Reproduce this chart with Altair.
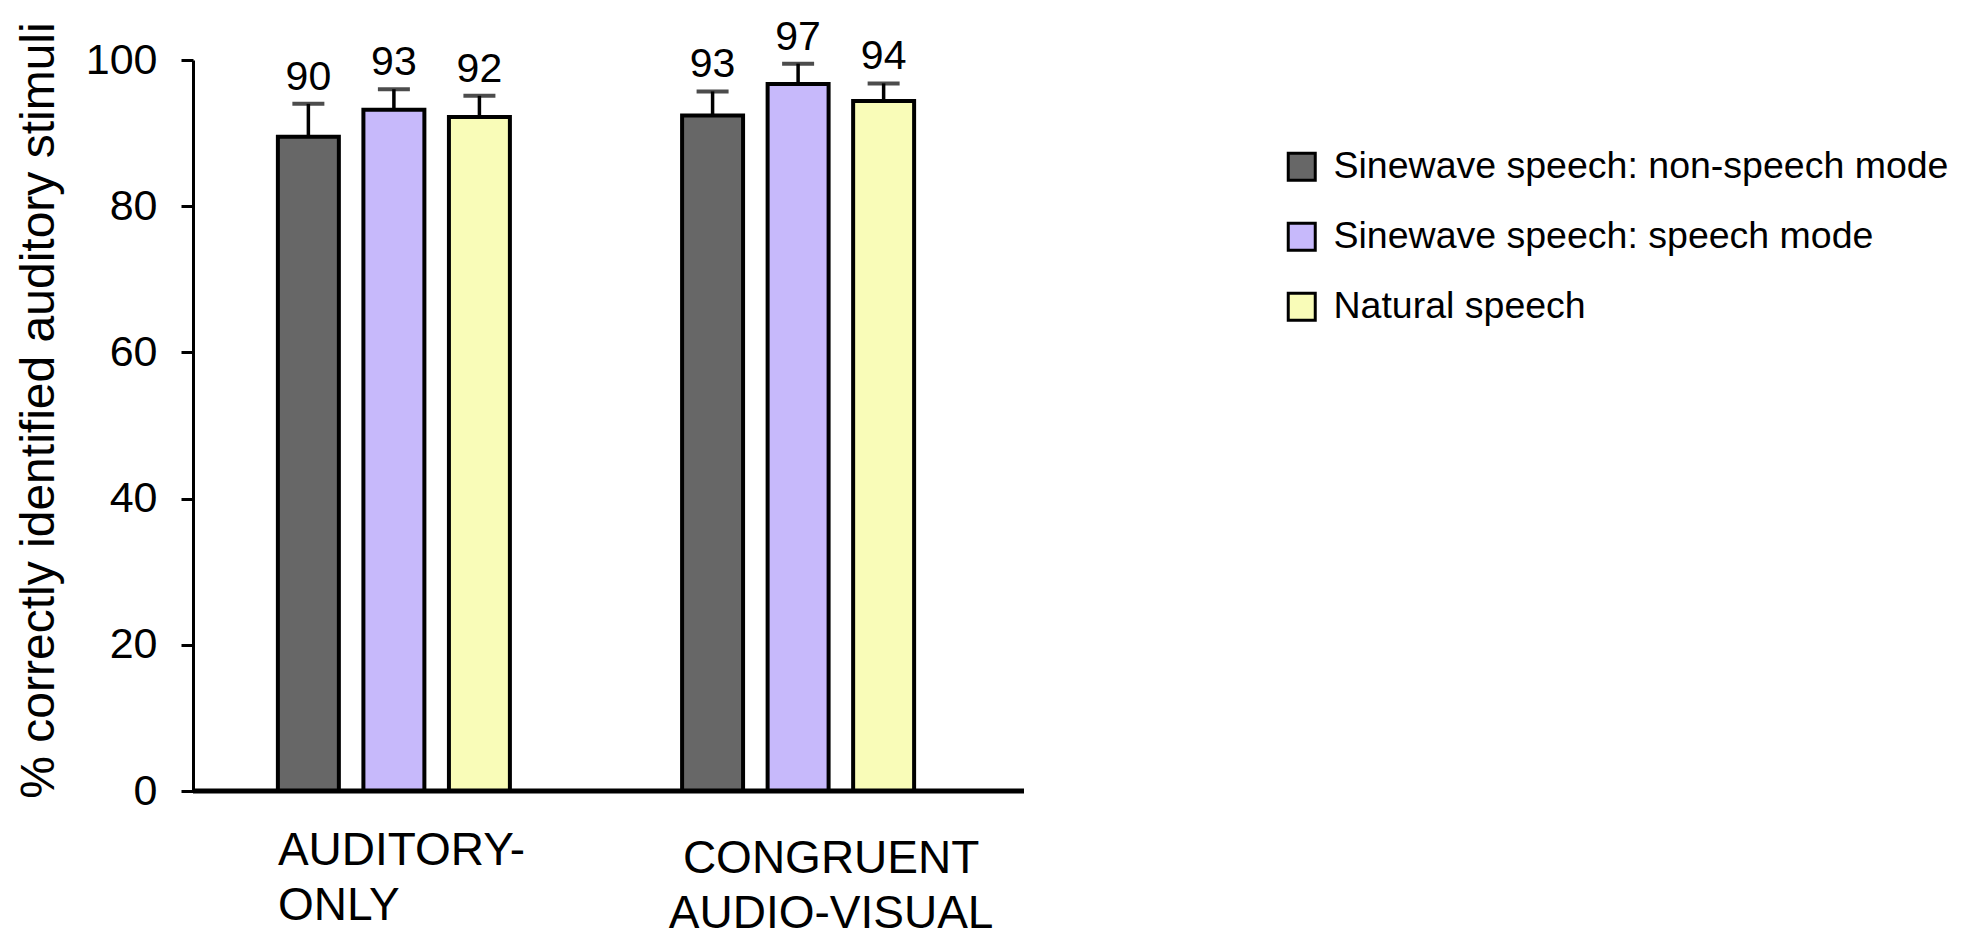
import altair as alt
import pandas as pd

# ---- data ----
groups = ["AUDITORY-\nONLY", "CONGRUENT\nAUDIO-VISUAL"]
conditions = [
    "Sinewave speech: non-speech mode",
    "Sinewave speech: speech mode",
    "Natural speech",
]
means_auditory = [89.5, 93.2, 92.2]
means_congruent = [92.4, 96.7, 94.4]
errs_auditory = [4.5, 2.8, 2.9]
errs_congruent = [3.3, 2.8, 2.4]
labels_auditory = ["90", "93", "92"]
labels_congruent = ["93", "97", "94"]
colors = ["#676767", "#c7b9fb", "#f9fcb8"]

rows = []
for g, ms, es, ls in [
    (groups[0], means_auditory, errs_auditory, labels_auditory),
    (groups[1], means_congruent, errs_congruent, labels_congruent),
]:
    for c, m, e, l in zip(conditions, ms, es, ls):
        rows.append({"group": g, "condition": c, "mean": m, "top": m + e, "label": l})
df = pd.DataFrame(rows)

FONT = "Liberation Sans"

first = "datum.index == 0"
x_enc = alt.X(
    "group:N",
    sort=groups,
    title=None,
    scale=alt.Scale(domain=groups, range=[0, 806], paddingInner=0.426, paddingOuter=0.21),
    axis=alt.Axis(
        domain=False,
        ticks=False,
        labelAngle=0,
        labelExpr="split(datum.value, '\\n')",
        labelFont=FONT,
        labelFontSize=46,
        labelColor="black",
        labelLineHeight=55,
        labelBaseline="top",
        labelLimit=0,
        labelOverlap=False,
        labelAlign={"condition": {"test": first, "value": "left"}, "value": "center"},
        labelOffset={"condition": {"test": first, "value": -116}, "value": 33},
        labelPadding={"condition": {"test": first, "value": 37}, "value": 45},
    ),
)
xo_enc = alt.XOffset(
    "condition:N",
    sort=conditions,
    scale=alt.Scale(domain=conditions, paddingInner=0.287, paddingOuter=0),
)
y_scale = alt.Scale(domain=[0, 100], nice=False)
y_axis = alt.Axis(
    values=[0, 20, 40, 60, 80, 100],
    grid=False,
    domainColor="black",
    domainWidth=3,
    tickColor="black",
    tickWidth=3,
    tickSize=12,
    labelFont=FONT,
    labelFontSize=43,
    labelColor="black",
    labelPadding=24,
    title="% correctly identified auditory stimuli",
    titleFont=FONT,
    titleFontSize=48,
    titleFontWeight="normal",
    titleColor="black",
    titlePadding=22,
    titleY=350,
)

base = alt.Chart(df)

bars = base.mark_bar(stroke="black", strokeWidth=4).encode(
    x=x_enc,
    xOffset=xo_enc,
    y=alt.Y("mean:Q", scale=y_scale, axis=y_axis),
    color=alt.Color(
        "condition:N",
        sort=conditions,
        scale=alt.Scale(domain=conditions, range=colors),
        legend=alt.Legend(
            title=None,
            orient="none",
            legendX=1090,
            legendY=88,
            padding=0,
            symbolType="square",
            symbolSize=729,
            symbolStrokeColor="black",
            symbolStrokeWidth=3,
            labelFont=FONT,
            labelFontSize=37.5,
            labelColor="black",
            labelOffset=13,
            rowPadding=30,
            labelLimit=800,
        ),
    ),
)

err_line = base.mark_rule(color="black", strokeWidth=3.5).encode(
    x=x_enc, xOffset=xo_enc, y=alt.Y("mean:Q", scale=y_scale, axis=y_axis), y2="top:Q"
)
err_cap = base.mark_tick(color="black", thickness=4, size=32).encode(
    x=x_enc, xOffset=xo_enc, y=alt.Y("top:Q", scale=y_scale, axis=y_axis)
)
values = base.mark_text(
    font=FONT, fontSize=41, color="black", baseline="alphabetic", dy=-14
).encode(
    x=x_enc, xOffset=xo_enc, y=alt.Y("top:Q", scale=y_scale, axis=y_axis), text="label:N"
)
baseline = alt.Chart(alt.Data(values=[{}])).mark_rule(color="black", strokeWidth=5).encode(
    y=alt.datum(0, scale=y_scale)
)

chart = (
    alt.layer(bars, err_line, err_cap, values, baseline)
    .properties(
        width=831,
        height=731,
        autosize=alt.AutoSizeParams(type="none"),
        padding={"left": 185, "top": 52, "right": 930, "bottom": 146},
        background="white",
    )
    .configure_view(stroke=None)
)

chart.save("out.html", embed_options={"renderer": "svg", "actions": False})
